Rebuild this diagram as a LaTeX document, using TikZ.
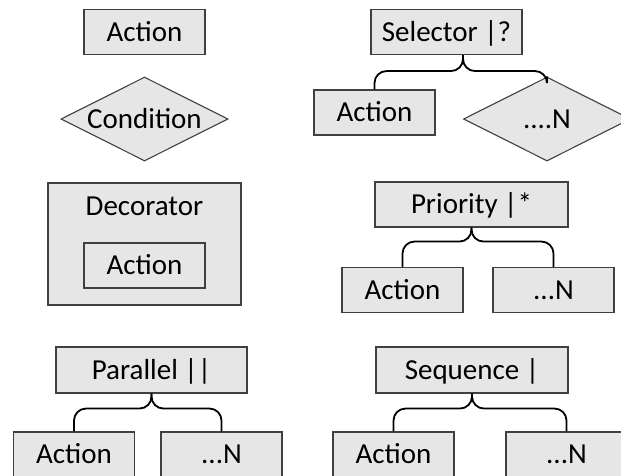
\documentclass[tikz,border=0pt]{standalone}
\usepackage{fontspec}
\setmainfont{Carlito}
\usetikzlibrary{shapes.geometric,calc}
\definecolor{boxfill}{HTML}{E6E6E6}
\definecolor{boxline}{HTML}{404040}
\begin{document}
\begin{tikzpicture}[x=1pt,y=-1pt,
  lbl/.style={inner sep=0pt, text height=18.5pt, text depth=0pt, font=\fontsize{29}{33}\selectfont},
  box/.style={lbl, draw=boxline, fill=boxfill, line width=1.1pt, minimum width=121pt, minimum height=45pt},
  cond/.style={lbl, diamond, aspect=2, draw=boxline, fill=boxfill, line width=1.1pt, minimum width=167pt, minimum height=84pt},
  brace/.style={draw=black, line width=1.8pt, rounded corners=12pt}]
\useasboundingbox (0,0) rectangle (621,475);
% left column
\node[box] (act) at (144.5,32) {Action};
\node[cond] (cond) at (144.5,119) {Condition};
\node[box, minimum width=193pt, minimum height=122pt] (dec) at (144.5,244) {};
\node[lbl] (declbl) at (144.5,206) {Decorator};
\node[box] (decact) at (144.5,265.5) {Action};
% selector
\node[box, minimum width=151pt] (sel) at (446.5,32) {Selector |?};
\node[box] (sela) at (374.5,112.5) {Action};
\node[cond] (seln) at (547,119) {....N};
\coordinate (selt) at ($(sel.south)+(16.5,0)$);
\coordinate (selm) at ($(selt)+(0,16)$);
\draw[brace] (sela.north) |- (selm) -- (selt);
\draw[brace] (seln.north) |- (selm) -- (selt);
% priority
\node[box, minimum width=193pt] (pri) at (471.5,204.5) {Priority |*};
\node[box] (pria) at (402.5,290) {Action};
\node[box] (prin) at (553.5,290) {...N};
\coordinate (prit) at (pri.south);
\coordinate (prim) at ($(prit)+(0,14)$);
\draw[brace] (pria.north) |- (prim) -- (prit);
\draw[brace] (prin.north) |- (prim) -- (prit);
% parallel
\node[box, minimum width=191pt, minimum height=46pt] (par) at (151.5,370) {Parallel ||};
\node[box] (para) at (74,454.5) {Action};
\node[box] (parn) at (221.5,454.5) {...N};
\coordinate (part) at (par.south);
\coordinate (parm) at ($(part)+(0,15)$);
\draw[brace] (para.north) |- (parm) -- (part);
\draw[brace] (parn.north) |- (parm) -- (part);
% sequence
\node[box, minimum width=192pt, minimum height=46pt] (seq) at (472,370) {Sequence |};
\node[box] (seqa) at (393.5,454.5) {Action};
\node[box] (seqn) at (566.5,454.5) {...N};
\coordinate (seqt) at (seq.south);
\coordinate (seqm) at ($(seqt)+(0,15)$);
\draw[brace] (seqa.north) |- (seqm) -- (seqt);
\draw[brace] (seqn.north) |- (seqm) -- (seqt);
\end{tikzpicture}
\end{document}
